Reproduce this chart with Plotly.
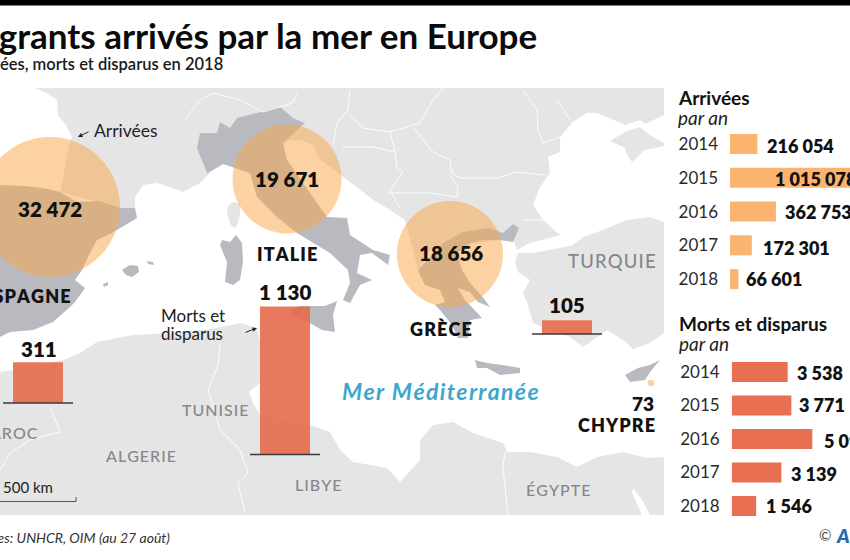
import plotly.graph_objects as go

# ---------- data ----------
years = ["2014", "2015", "2016", "2017", "2018"]
arrivals_by_year = [216054, 1015078, 362753, 172301, 66601]
deaths_by_year = [3538, 3771, 5096, 3139, 1546]

arrival_places = ["Espagne", "Italie", "Grèce", "Chypre"]
arrivals_2018 = [32472, 19671, 18656, 73]
death_places = ["Espagne", "Italie", "Turquie"]
deaths_2018 = [311, 1130, 105]

# ---------- map placement (page pixels) ----------
bubble_x = [50, 287, 450, 651]
bubble_y = [207, 179, 254, 383]
bar_x = [38, 285, 567]
bar_baseline = [403, 454.5, 334]

# ---------- base map outlines (page pixels) ----------
LIGHT, DARK = "#E5E5E6", "#B8BAC0"
land_light = [
    [(35,88),(664,88),(664,115),(645,124),(640,120),(625,125),(607,117),(597,113),(587,113),(573,122),(560,137),
     (560,152),(548,157),(550,173),(540,187),(533,205),(543,220),(560,235),(550,238),(530,243),(517,250),(513,238),
     (430,250),(418,270),(405,220),(387,208),(373,200),(357,187),(343,177),(335,170),(320,160),(313,145),(300,140),
     (290,140),(283,143),(283,160),(233,167),(223,164),(213,170),(200,183),(183,192),(170,187),(157,183),(143,185),
     (135,197),(135,208),(120,208),(60,192),(63,180),(66,160),(70,142),(72,137),(66,125),(58,115),(57,100),(45,92)],
    [(610,141),(625,132),(640,127),(650,135),(664,143),(664,146),(645,150),(632,162),(627,155),(625,148)],
    [(664,222),(650,217),(627,220),(603,230),(583,237),(573,245),(560,248),(533,253),(518,253),(515,262),(518,272),
     (530,280),(523,293),(528,305),(533,323),(550,330),(570,337),(583,347),(593,340),(607,330),(623,340),(633,349),
     (650,343),(664,333)],
    [(0,372),(13,370),(63,360),(80,353),(97,342),(133,335),(173,333),(217,328),(240,323),(257,328),(260,343),(260,383),
     (249,392),(253,403),(260,415),(310,425),(330,432),(340,450),(353,462),(387,468),(400,482),(420,460),(420,440),
     (433,425),(453,422),(473,433),(503,443),(507,452),(530,452),(557,457),(577,467),(597,457),(623,452),(647,458),
     (664,457),(664,515),(0,515)],
    [(228,206),(233,202),(240,203),(240,215),(236,228),(231,226),(227,213)],
]
land_dark = [
    [(0,185),(25,186),(43,188),(60,192),(77,202),(100,201),(120,208),(135,208),(137,218),(120,228),(112,233),(97,240),
     (90,253),(82,270),(75,280),(85,288),(75,302),(70,307),(53,322),(33,330),(10,332),(0,337)],
    [(122,270),(130,265),(138,266),(139,272),(132,277),(126,275)],
    [(147,261),(153,262),(154,265),(148,264)],
    [(103,284),(108,282),(108,285),(104,287)],
    [(236,235),(242,243),(243,262),(240,280),(233,285),(225,282),(227,262),(220,245),(222,240),(230,242)],
    [(197,148),(200,133),(217,133),(220,122),(230,128),(237,118),(257,113),(280,107),(293,118),(305,123),(283,143),
     (287,160),(310,193),(327,217),(347,218),(350,235),(373,250),(390,255),(388,265),(372,253),(360,255),(357,273),
     (372,280),(360,285),(350,303),(343,300),(350,283),(348,270),(330,253),(297,233),(277,217),(257,197),(250,173),
     (233,167),(223,164),(213,170),(207,173)],
    [(290,310),(300,306),(325,306),(337,301),(333,315),(335,332),(322,330),(308,322),(292,316)],
    [(418,270),(443,243),(463,232),(490,228),(503,233),(513,224),(519,228),(513,242),(500,240),(483,240),(470,243),
     (457,253),(462,270),(470,283),(485,300),(490,307),(478,302),(470,292),(458,288),(465,300),(482,318),(470,320),
     (468,338),(458,338),(452,325),(440,310),(435,305),(445,302),(440,290),(425,285),(420,275)],
    [(475,360),(487,363),(503,365),(520,368),(520,373),(500,375),(487,368),(477,368)],
    [(625,375),(638,368),(650,365),(660,360),(650,372),(645,380),(630,382)],
]
red_sea = [(633,488),(642,500),(650,515),(642,515),(632,493)]
borders = [
    [(220,343),(218,365),(208,390),(220,430),(240,450),(248,473),(238,483),(245,513)],
    [(505,452),(503,467),(508,515)],
    [(50,407),(60,432),(30,440),(10,453),(0,470)],
    [(185,120),(200,100),(213,93),(240,100),(263,112),(293,103),(297,92)],
    [(350,90),(348,110),(337,123),(333,145)],
    [(348,113),(363,128),(390,132),(420,123),(433,100),(443,88)],
    [(390,132),(395,152),(397,168),(403,172),(390,190),(400,208)],
    [(413,127),(433,152),(450,160),(452,173),(460,178),(497,178),(517,172),(543,175)],
    [(523,90),(537,110),(538,130),(543,143),(560,137)],
    [(557,100),(570,120)],
    [(342,147),(373,147),(395,152)],
    [(388,193),(430,193),(457,197),(458,187),(450,175)],
    [(523,220),(543,220)],
]

ORANGE_SOFT = "rgba(250,166,72,0.72)"
ORANGE = "#FBB370"
RED = "#E96F52"
BAR_RED = "rgba(231,106,74,0.9)"
BODY = "Lato"
INK = "#111111"
GREY = "#85878C"

fig = go.Figure()

def polygon(points, color):
    fig.add_trace(go.Scatter(x=[p[0] for p in points], y=[p[1] for p in points], mode="lines", fill="toself",
                             fillcolor=color, line=dict(width=0), hoverinfo="skip", showlegend=False))

for poly in land_light:
    polygon(poly, LIGHT)
for poly in land_dark:
    polygon(poly, DARK)
polygon(red_sea, "#FFFFFF")
for line in borders:
    fig.add_trace(go.Scatter(x=[p[0] for p in line], y=[p[1] for p in line], mode="lines",
                             line=dict(color="#FFFFFF", width=0.9), hoverinfo="skip", showlegend=False))

# proportional bubbles: the largest is 140 px across
fig.add_trace(go.Scatter(x=bubble_x, y=bubble_y, mode="markers", text=arrival_places, showlegend=False,
                         marker=dict(size=arrivals_2018, sizemode="area", sizeref=2 * arrivals_2018[0] / 140 ** 2,
                                     color=ORANGE_SOFT, line=dict(width=0))))

# map bars: 148 px for 1 130 deaths
PX_PER_DEATH = 148 / 1130
fig.add_trace(go.Bar(x=bar_x, y=deaths_2018, width=50, marker=dict(color=BAR_RED, line=dict(width=0)),
                     base=[(560 - b) / PX_PER_DEATH for b in bar_baseline], text=death_places, textposition="none",
                     xaxis="x2", yaxis="y2", showlegend=False))

# side charts
fig.add_trace(go.Bar(x=arrivals_by_year, y=years, orientation="h", width=20 / 33.75, marker=dict(color=ORANGE, line=dict(width=0)),
                     xaxis="x3", yaxis="y3", showlegend=False))
fig.add_trace(go.Bar(x=deaths_by_year, y=years, orientation="h", width=20 / 33.5, marker=dict(color=RED, line=dict(width=0)),
                     xaxis="x4", yaxis="y4", showlegend=False))

def fy(px):
    return 1 - px / 560

hidden = dict(visible=False, showgrid=False, zeroline=False)
year_axis = dict(type="category", categoryorder="array", categoryarray=years, range=[4.5, -0.5], autorange=False,
                 showgrid=False, zeroline=False, showline=False, ticks="", ticklabelstandoff=11, automargin=False,
                 tickfont=dict(family=BODY, size=17, color="#2A2A2A"))
ARR_MAX = 120 * 7900
fig.update_layout(
    width=850, height=560, margin=dict(l=0, r=0, t=0, b=0, pad=0, autoexpand=False), autosize=False,
    paper_bgcolor="#FFFFFF", plot_bgcolor="rgba(0,0,0,0)", showlegend=False, barmode="overlay",
    xaxis=dict(range=[0, 850], domain=[0, 1], **hidden),
    yaxis=dict(range=[560, 0], domain=[0, 1], **hidden),
    xaxis2=dict(range=[0, 850], domain=[0, 1], overlaying="x", anchor="y2", **hidden),
    yaxis2=dict(range=[0, 560 / PX_PER_DEATH], domain=[0, 1], overlaying="y", anchor="x2", **hidden),
    xaxis3=dict(range=[0, ARR_MAX], domain=[730 / 850, 1], anchor="y3", **hidden),
    yaxis3=dict(domain=[fy(296), fy(127.2)], anchor="x3", **year_axis),
    xaxis4=dict(range=[0, 118.3 * 63.2], domain=[731.7 / 850, 1], anchor="y4", **hidden),
    yaxis4=dict(domain=[fy(522.8), fy(355.2)], anchor="x4", **year_axis),
)

shapes = [dict(type="rect", xref="paper", yref="paper", x0=0, x1=1, y0=fy(5.5), y1=1, fillcolor="#000000", line_width=0)]
for base, x0, x1 in [(403, 3, 73), (454.5, 250, 320), (334, 532, 602)]:
    shapes.append(dict(type="line", xref="x", yref="y", x0=x0, x1=x1, y0=base, y1=base, line=dict(color="#3A3A3A", width=1.5)))
shapes.append(dict(type="path", xref="x", yref="y", path="M0,501.5 L76,501.5 L76,497", line=dict(color="#555555", width=1)))
fig.update_layout(shapes=shapes)

spaced = lambda s: "\u200a".join(s)
fmt = lambda v: f"{v:,}".replace(",", "\u00a0")

def label(x, y, text, size=17, color=INK, weight=400, style="normal", anchor="center"):
    # annotation boxes have a small inner padding: compensate so x is the ink edge
    nudge = {"left": -2, "right": 2, "center": 0}[anchor]
    fig.add_annotation(x=x + nudge, y=y, xref="x", yref="y", text=text, showarrow=False, xanchor=anchor, yanchor="middle",
                       font=dict(family=BODY, size=size, color=color, weight=weight, style=style))

label(537, 35, "Migrants arrivés par la mer en Europe", 35, "#0A0A0A", 700, anchor="right")
label(223, 64, "Arrivées, morts et disparus en 2018", 16.5, "#1A1A1A", 600, anchor="right")

for i, (x, y) in enumerate([(50, 209), (287, 179), (451, 253)]):
    label(x, y, fmt(arrivals_2018[i]), 20.5, INK, 800)
label(654, 403, fmt(arrivals_2018[3]), 19, INK, 800, anchor="right")
for i, (x, y) in enumerate([(39, 349), (285, 292), (567, 305)]):
    label(x, y, fmt(deaths_2018[i]), 20.5, INK, 800)

for x, y, t, a in [(71, 296, "ESPAGNE", "right"), (287, 254, "ITALIE", "center"), (441, 329, "GRÈCE", "center"),
                   (655, 425, "CHYPRE", "right")]:
    label(x, y, spaced(t), 18, INK, 800, anchor=a)
for x, y, t, a, s in [(612, 261, "TURQUIE", "center", 18.5), (215, 409, "TUNISIE", "center", 16), (141, 455, "ALGERIE", "center", 16),
                      (318, 484, "LIBYE", "center", 16), (38, 432, "MAROC", "right", 16), (558, 489, "ÉGYPTE", "center", 16)]:
    label(x, y, spaced(t), s, GREY, 500, anchor=a)

label(440, 391, spaced("Mer Méditerranée"), 23, "#3FA6CB", 700, "italic")
label(94, 130, "Arrivées", 17.5, "#222222", 400, anchor="left")
label(161, 315, "Morts et", 17, "#222222", 400, anchor="left")
label(161, 333, "disparus", 17, "#222222", 400, anchor="left")
label(3, 487, "500 km", 15, "#222222", 400, anchor="left")
label(170, 537, "Sources: UNHCR, OIM (au 27 août)", 14, "#333333", 400, "italic", "right")
label(678, 97, "Arrivées", 19, INK, 700, anchor="left")
label(678, 117, "par an", 19, "#222222", 400, "italic", "left")
label(679, 323, "Morts et disparus", 19, INK, 700, anchor="left")
label(679, 343, "par an", 19, "#222222", 400, "italic", "left")
label(819, 535, "©", 15, "#444444", 400, anchor="left")
label(836, 535, "AFP", 19, "#1F6FB5", 800, "italic", "left")

# small pointers
for x, y, ax, ay in [(78, 137, 90, 131), (257, 328, 244, 333)]:
    fig.add_annotation(x=x, y=y, ax=ax, ay=ay, xref="x", yref="y", axref="x", ayref="y", text="", showarrow=True,
                       arrowhead=2, arrowsize=0.9, arrowwidth=1, arrowcolor="#222222")

# value labels beside the side bars (category axes take the serial number of the year)
arr_offset_x = [8, 0, 7, 9, 6]
arr_offset_y = [-2, -1, 0, -3, 0]
for i, (v, dx, dy) in enumerate(zip(arrivals_by_year, arr_offset_x, arr_offset_y)):
    # a bar running past the frame cannot anchor its label at its end: the label sits inside the bar
    anchor_x = v if v < ARR_MAX else 43 * 7900
    fig.add_annotation(x=anchor_x, y=i, xref="x3", yref="y3", text=fmt(v), showarrow=False, xanchor="left", yanchor="middle",
                       xshift=dx, yshift=dy, font=dict(family=BODY, size=18, color=INK, weight=800))
death_offset_x = [7, 6, 10, 8, 8]
death_offset_y = [-1, 0, -2, -1, 0]
for i, (v, dx, dy) in enumerate(zip(deaths_by_year, death_offset_x, death_offset_y)):
    fig.add_annotation(x=v, y=i, xref="x4", yref="y4", text=fmt(v), showarrow=False, xanchor="left", yanchor="middle",
                       xshift=dx, yshift=dy, font=dict(family=BODY, size=18, color=INK, weight=800))

fig.write_html("out.html", config={"displayModeBar": False},
               post_script="document.body.style.margin='0';document.body.style.overflow='hidden';")
